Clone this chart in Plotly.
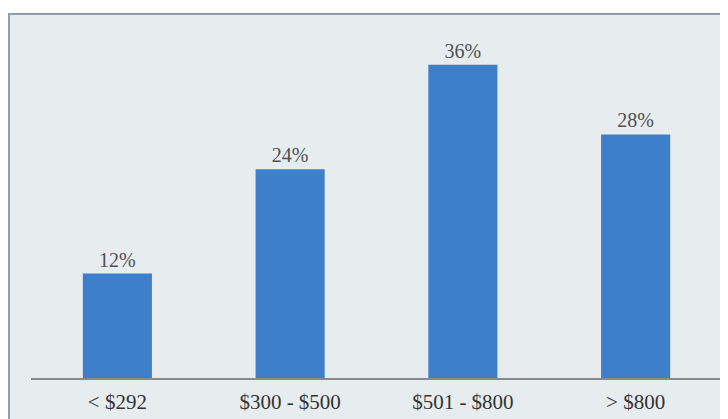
import plotly.graph_objects as go

categories = ["< $292", "$300 - $500", "$501 - $800", "> $800"]
values = [12, 24, 36, 28]
labels = ["12%", "24%", "36%", "28%"]

# page has an 8px body margin; figure occupies page (8..728, 8..419)
W, H = 720, 411
L, R, T, B = 23, 6, 22, 41
pw, ph = W - L - R, H - T - B

def px(x):
    return (x - L) / pw

def py(y):
    return (H - B - y) / ph

fig = go.Figure(go.Bar(
    x=categories, y=values, text=labels, textposition="outside",
    marker=dict(color="#3d7fcb", line=dict(width=0)),
    textfont=dict(family="Liberation Serif", size=20, color="#505050"),
    cliponaxis=False, width=0.4,
))

fig.add_shape(type="rect", xref="paper", yref="paper",
              x0=px(1), x1=px(722), y0=py(413), y1=py(6),
              fillcolor="#e7edef", line=dict(color="#8f9db3", width=2), layer="below")

fig.update_layout(
    width=W, height=H,
    margin=dict(l=L, r=R, t=T, b=B),
    paper_bgcolor="white", plot_bgcolor="rgba(0,0,0,0)",
    showlegend=False,
    xaxis=dict(showline=True, linecolor="#8a8a8a", linewidth=2, ticks="",
               tickfont=dict(family="Liberation Serif", size=21, color="#333333"),
               ticklabelstandoff=4,
               showgrid=False, zeroline=False),
    yaxis=dict(range=[0, 40], visible=False, showgrid=False, zeroline=False),
)

fig.write_html("out.html")
